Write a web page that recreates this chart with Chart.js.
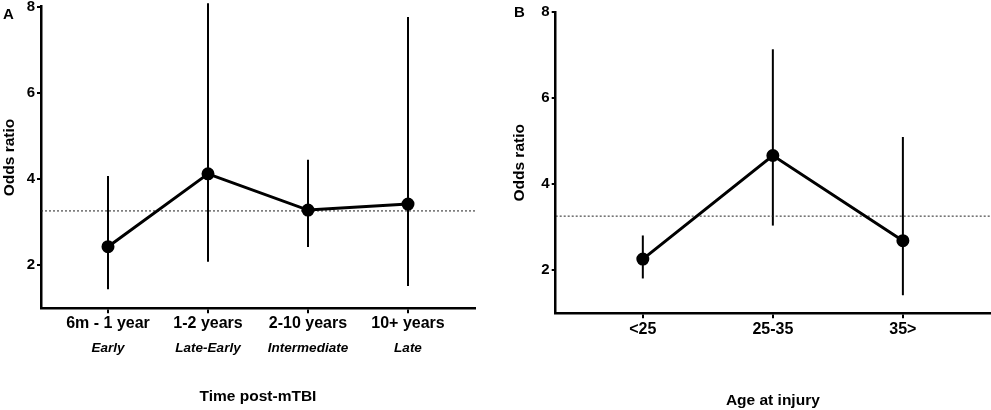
<!DOCTYPE html>
<html>
<head>
<meta charset="utf-8">
<script src="https://cdn.jsdelivr.net/npm/chart.js@4.4.0/dist/chart.umd.min.js"></script>
<style>
  body { margin: 0; background: #fff; width: 991px; height: 410px; overflow: hidden; position: relative; }
  .panel { position: absolute; top: 0; }
  .tag { position: absolute; font: bold 15px 'Liberation Sans', Arial, sans-serif; color: #000; line-height: 1; }
</style>
</head>
<body>
<div class="panel" style="left:0"><canvas id="chartA" width="480" height="410"></canvas></div>
<div class="panel" style="left:490px"><canvas id="chartB" width="501" height="410"></canvas></div>
<div class="tag" style="left:3px;top:6px">A</div>
<div class="tag" style="left:514px;top:4px">B</div>
<script>
// 数据 - 面板A (时间)
const timeLabels = ['6m - 1 year', '1-2 years', '2-10 years', '10+ years'];
const timeSubLabels = ['Early', 'Late-Early', 'Intermediate', 'Late'];
const timeOR = [2.43, 4.12, 3.28, 3.42];
const timeLow = [1.44, 2.08, 2.42, 1.52];
const timeHigh = [4.07, 8.08, 4.45, 7.76];

// 数据 - 面板B (年龄)
const ageLabels = ['<25', '25-35', '35>'];
const ageOR = [2.26, 4.67, 2.69];
const ageLow = [1.81, 3.04, 1.42];
const ageHigh = [2.81, 7.14, 5.10];

// 参考线和Y轴刻度
const refOR = 3.26;
const yTicks = [2, 4, 6, 8];

const FONT = "'Liberation Sans', Arial, sans-serif";

// 误差线插件
const errorBars = {
    id: 'errorBars',
    beforeDatasetsDraw(chart) {
        const ds = chart.data.datasets[0];
        if (!ds.low) return;
        const xs = chart.scales.x, ys = chart.scales.y;
        const ctx = chart.ctx;
        ctx.save();
        ctx.strokeStyle = '#000';
        ctx.lineWidth = 2;
        ds.low.forEach(function(lo, i) {
            const px = xs.getPixelForValue(i);
            ctx.beginPath();
            ctx.moveTo(px, ys.getPixelForValue(lo));
            ctx.lineTo(px, ys.getPixelForValue(ds.high[i]));
            ctx.stroke();
        });
        ctx.restore();
    }
};

function catTicks(labels) {
    return function(scale) {
        scale.ticks = labels.map(function(l, i) { return { value: i }; });
    };
}

function makePanel(id, cfg) {
    const n = cfg.labels.length;
    const xMin = -0.67, xMax = n - 1 + 0.67;
    const scales = {
        x: {
            type: 'linear', position: 'bottom', weight: 0, min: xMin, max: xMax,
            afterBuildTicks: catTicks(cfg.labels),
            ticks: {
                callback: function(v) { return cfg.labels[v]; },
                font: { family: FONT, size: 16, weight: 'bold' }, color: '#000',
                padding: cfg.tickPad, maxRotation: 0, autoSkip: false
            },
            grid: { display: true, drawOnChartArea: false, drawTicks: true, tickLength: 5, color: '#000', lineWidth: 2 },
            border: { display: true, color: '#000', width: 2.5 },
            title: { display: !cfg.subLabels, text: cfg.xTitle, color: '#000',
                     font: { family: FONT, size: 15.5, weight: 'bold' }, padding: { top: 0, bottom: cfg.titlePad } },
            afterFit: function(s) { s.height = cfg.xHeight; s.paddingLeft = 0; s.paddingRight = 0; }
        },
        y: {
            type: 'linear', min: 1, max: 8,
            afterBuildTicks: function(s) { s.ticks = yTicks.map(function(v) { return { value: v }; }); },
            ticks: { font: { family: FONT, size: 15, weight: 'bold' }, color: '#000', padding: 2 },
            grid: { display: true, drawOnChartArea: false, drawTicks: true, tickLength: 4, color: '#000', lineWidth: 2 },
            border: { display: true, color: '#000', width: 2.5 },
            title: { display: true, text: 'Odds ratio', color: '#000',
                     font: { family: FONT, size: 15.5, weight: 'bold' }, padding: 0 },
            afterFit: function(s) { s.width = cfg.yWidth; s.paddingTop = 0; s.paddingBottom = 0; }
        }
    };
    if (cfg.subLabels) {
        scales.x2 = {
            type: 'linear', position: 'bottom', weight: 1, min: xMin, max: xMax,
            afterBuildTicks: catTicks(cfg.subLabels),
            ticks: {
                callback: function(v) { return cfg.subLabels[v]; },
                font: { family: FONT, size: 13.5, weight: 'bold', style: 'italic' }, color: '#000',
                padding: 2, maxRotation: 0, autoSkip: false
            },
            grid: { display: false, drawTicks: false },
            border: { display: false },
            title: { display: true, text: cfg.xTitle, color: '#000',
                     font: { family: FONT, size: 15.5, weight: 'bold' }, padding: { top: 0, bottom: cfg.titlePad } },
            afterFit: function(s) { s.height = cfg.x2Height; s.paddingLeft = 0; s.paddingRight = 0; }
        };
    }

    return new Chart(document.getElementById(id).getContext('2d'), {
        type: 'line',
        data: {
            datasets: [{
                data: cfg.values.map(function(v, i) { return { x: i, y: v }; }),
                low: cfg.low,
                high: cfg.high,
                borderColor: '#000',
                borderWidth: 3,
                pointRadius: 5,
                pointBackgroundColor: '#000',
                pointBorderColor: '#000',
                tension: 0
            }, {
                data: [{ x: xMin, y: refOR }, { x: xMax, y: refOR }],
                borderColor: '#222',
                borderWidth: 1,
                borderDash: [2, 2],
                pointRadius: 0
            }]
        },
        options: {
            responsive: false,
            animation: false,
            layout: { padding: cfg.padding, autoPadding: false },
            plugins: { legend: { display: false }, tooltip: { enabled: false } },
            scales: scales
        },
        plugins: [errorBars]
    });
}

function initCharts() {
    if (typeof Chart === 'undefined') {
        console.error('Chart.js 未加载');
        return;
    }
    makePanel('chartA', {
        labels: timeLabels, subLabels: timeSubLabels,
        values: timeOR, low: timeLow, high: timeHigh,
        xTitle: 'Time post-mTBI', tickPad: 1, titlePad: 4,
        xHeight: 30, x2Height: 71.7, yWidth: 41,
        padding: { top: 6.7, right: 5, bottom: 0, left: 0 }
    });
    makePanel('chartB', {
        labels: ageLabels,
        values: ageOR, low: ageLow, high: ageHigh,
        xTitle: 'Age at injury', tickPad: 2, titlePad: 0,
        xHeight: 96.7, yWidth: 45,
        padding: { top: 12.3, right: 1, bottom: 0, left: 20.7 }
    });
}

if (document.readyState === 'loading') {
    document.addEventListener('DOMContentLoaded', initCharts);
} else {
    initCharts();
}
</script>
</body>
</html>
